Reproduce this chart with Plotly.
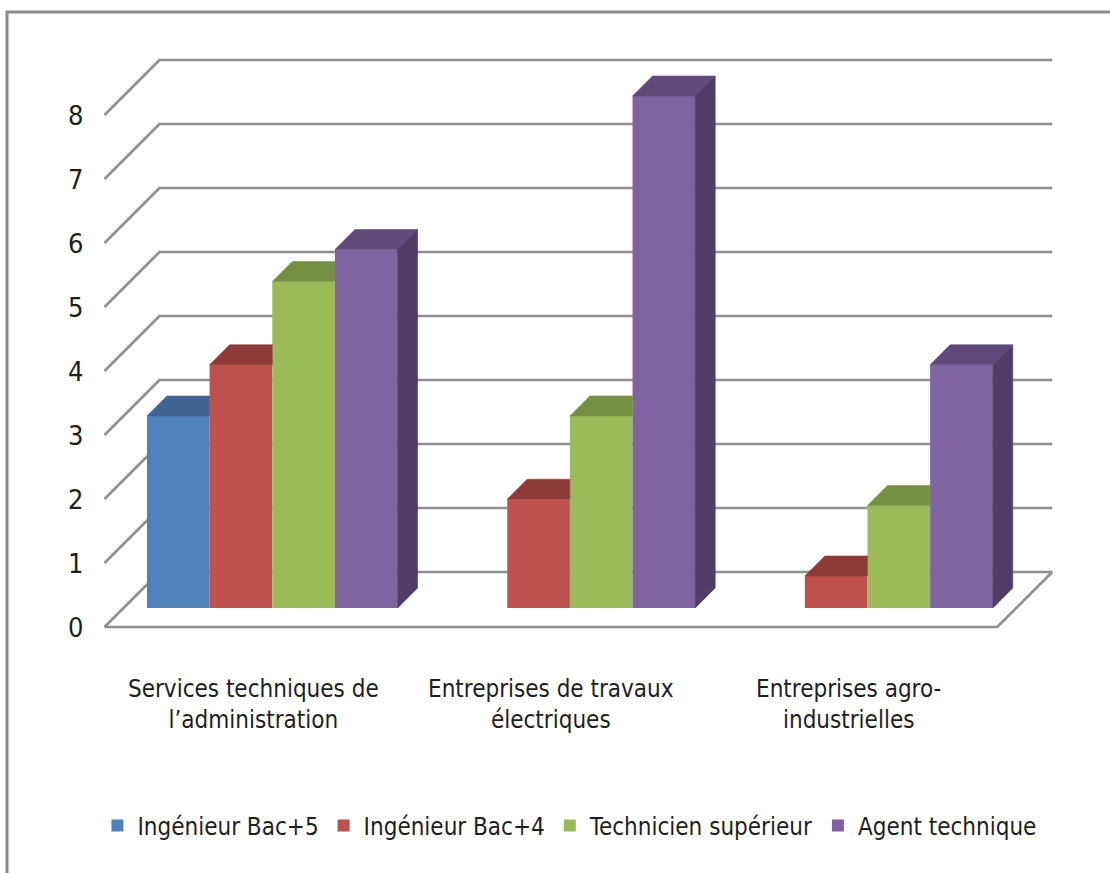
import plotly.graph_objects as go

# ---------------- data ----------------
categories = ["Services techniques de<br>l’administration",
              "Entreprises de travaux<br>électriques",
              "Entreprises agro-<br>industrielles"]
series_names = ["Ingénieur Bac+5", "Ingénieur Bac+4",
                "Technicien supérieur", "Agent technique"]
ingenieur_bac5 = [3.0, 0.0, 0.0]
ingenieur_bac4 = [3.8, 1.7, 0.5]
technicien_sup = [5.1, 3.0, 1.6]
agent_technique = [5.6, 8.0, 3.8]
y_ticks = [0, 1, 2, 3, 4, 5, 6, 7, 8]

series_values = [ingenieur_bac5, ingenieur_bac4, technicien_sup, agent_technique]
front_colors = ["#4F81BD", "#C0504D", "#9BBB59", "#8064A2"]
top_colors = ["#3D6493", "#8E3A38", "#768F42", "#5F4A7B"]
side_colors = ["#324F75", "#722E2C", "#5E7234", "#4F3D66"]

# ---------------- geometry (layout) ----------------
W, H = 1110, 873
PX_X = 62.65      # pixels per bar width
PX_Y = 64.0       # pixels per value unit
X0, Y0 = 147.0, 608.0
Z_FRONT, Z_BACK, BAR_D = -19.0, 36.0, 20.0
GROUP_STEP = 4.75
HALF_GAP = 0.375
n_cat = len(categories)
n_ser = len(series_names)

def proj(x, v, z):
    return x + z / PX_X, v + z / PX_Y

xL = -HALF_GAP
xR = n_cat * GROUP_STEP - HALF_GAP

FONT = "Liberation Sans Narrow, Arial Narrow, DejaVu Sans Condensed, sans-serif"
TXT = "#1e1e1e"
GRID = "#8f8f8f"

fig = go.Figure()

# front faces (bars)
for i in range(n_ser):
    fig.add_trace(go.Bar(
        x=[k * GROUP_STEP + i + 0.5 for k in range(n_cat)],
        y=series_values[i],
        width=1.0,
        name=series_names[i],
        marker=dict(color=front_colors[i], line=dict(width=0)),
        hoverinfo="y+name",
    ))

# top and side faces
for k in range(n_cat):
    for i in range(n_ser):
        v = series_values[i][k]
        if v <= 0:
            continue
        xl = k * GROUP_STEP + i
        xr = xl + 1
        vn = series_values[i + 1][k] if i + 1 < n_ser else 0.0
        A = proj(xl, v, 0)
        B = proj(xr, v, 0)
        C = proj(xr, v, BAR_D)
        E = proj(xl, v, BAR_D)
        if vn >= C[1]:
            pts = [A, B, (B[0], C[1]), E]
        else:
            pts = [A, B, C, E]
        fig.add_trace(go.Scatter(
            x=[p[0] for p in pts] + [pts[0][0]],
            y=[p[1] for p in pts] + [pts[0][1]],
            mode="lines", fill="toself", fillcolor=top_colors[i],
            line=dict(width=0.6, color=top_colors[i]),
            showlegend=False, hoverinfo="skip"))
        if v > vn:
            S = [proj(xr, vn, 0), proj(xr, v, 0), proj(xr, v, BAR_D), proj(xr, vn, BAR_D)]
            fig.add_trace(go.Scatter(
                x=[p[0] for p in S] + [S[0][0]],
                y=[p[1] for p in S] + [S[0][1]],
                mode="lines", fill="toself", fillcolor=side_colors[i],
                line=dict(width=0.6, color=side_colors[i]),
                showlegend=False, hoverinfo="skip"))

shapes = []
# gridlines: left wall diagonal + back wall horizontal
for v in y_ticks:
    p1 = proj(xL, v, Z_FRONT)
    p2 = proj(xL, v, Z_BACK)
    p3 = proj(xR, v, Z_BACK)
    shapes.append(dict(type="path", xref="x", yref="y", layer="below",
                       path=f"M {p1[0]},{p1[1]} L {p2[0]},{p2[1]} L {p3[0]},{p3[1]}",
                       line=dict(color=GRID, width=2.6)))
# floor front and right edges
f1 = proj(xL, 0, Z_FRONT)
f2 = proj(xR, 0, Z_FRONT)
f3 = proj(xR, 0, Z_BACK)
shapes.append(dict(type="path", xref="x", yref="y", layer="below",
                   path=f"M {f1[0]},{f1[1]} L {f2[0]},{f2[1]} L {f3[0]},{f3[1]}",
                   line=dict(color=GRID, width=2.6)))
# chart frame
shapes.append(dict(type="rect", xref="paper", yref="paper",
                   x0=7 / W, x1=1.02, y0=-0.02, y1=1 - 12 / H,
                   line=dict(color="#8a8a8a", width=3), layer="below"))

annotations = []
for v in y_ticks:
    lx = xL + (Z_FRONT - 20) / PX_X
    _, ly = proj(xL, v, Z_FRONT)
    annotations.append(dict(x=lx, y=ly, xref="x", yref="y", text=str(v),
                            showarrow=False, xanchor="right", yanchor="middle",
                            font=dict(family=FONT, size=27, color=TXT)))
for k, cat in enumerate(categories):
    cx, _ = proj(k * GROUP_STEP + n_ser / 2, 0, Z_FRONT)
    annotations.append(dict(x=cx, y=-1.5, xref="x", yref="y", text=cat,
                            showarrow=False, xanchor="center", yanchor="middle",
                            align="center",
                            font=dict(family=FONT, size=24, color=TXT)))

fig.update_layout(
    width=W, height=H,
    margin=dict(l=0, r=0, t=0, b=0),
    paper_bgcolor="white", plot_bgcolor="rgba(0,0,0,0)",
    barmode="overlay",
    shapes=shapes, annotations=annotations,
    xaxis=dict(range=[-X0 / PX_X, (W - X0) / PX_X], visible=False, fixedrange=True),
    yaxis=dict(range=[-(H - Y0) / PX_Y, Y0 / PX_Y], visible=False, fixedrange=True),
    legend=dict(orientation="h", x=0.513, y=1 - 826 / H, xanchor="center",
                yanchor="middle", font=dict(family=FONT, size=24, color=TXT),
                itemwidth=30, bgcolor="rgba(0,0,0,0)"),
    showlegend=True,
)

fig.write_html("out.html")
